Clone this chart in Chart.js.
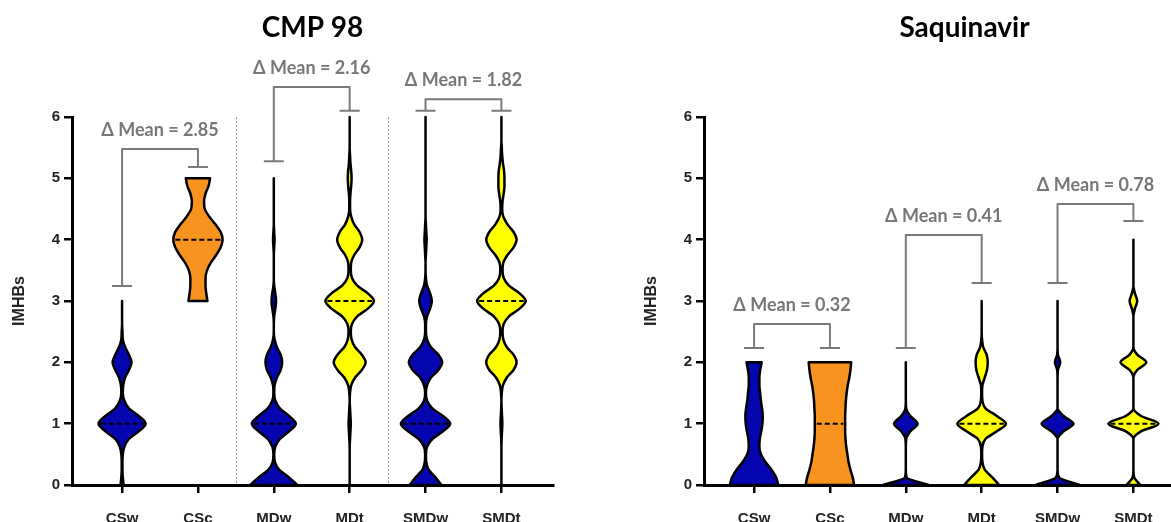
<!DOCTYPE html>
<html>
<head>
<meta charset="utf-8">
<script src="https://cdn.jsdelivr.net/npm/chart.js@4.4.1/dist/chart.umd.min.js"></script>
<style>
  html, body { margin: 0; padding: 0; background: #fff; overflow: hidden; }
  #wrap { position: relative; width: 1171px; height: 522px; overflow: hidden; background: #fff; }
  #cmpChart { position: absolute; left: 0; top: 0; }
  #saqChart { position: absolute; left: 632px; top: 0; }
</style>
</head>
<body>
<div id="wrap">
  <canvas id="cmpChart" width="626" height="522"></canvas>
  <canvas id="saqChart" width="664" height="522"></canvas>
</div>
<script>
const categories = ['CSw', 'CSc', 'MDw', 'MDt', 'SMDw', 'SMDt'];
const step = 0.125; // spacing of the width samples, in IMHBs

// CMP 98 - violin half widths (x units) sampled every 0.125 from each violin's min
const cmpMin = [0, 3, 0, 0, 0, 0];
const cmpMedian = [1, 4, 1, 3, 1, 3];
const cmpCSw = [0.02, 0.01, 0.005, 0.005, 0.01, 0.03, 0.09, 0.22, 0.31, 0.22, 0.09, 0.03, 0.01, 0.015, 0.04, 0.09, 0.125, 0.09, 0.04, 0.01, 0.005, 0, 0, 0, 0];
const cmpCSc = [0.125, 0.11, 0.1, 0.1, 0.12, 0.17, 0.24, 0.3, 0.325, 0.3, 0.23, 0.15, 0.09, 0.08, 0.1, 0.14, 0.16];
const cmpMDw = [0.31, 0.2, 0.07, 0.015, 0.005, 0.02, 0.08, 0.2, 0.29, 0.2, 0.08, 0.02, 0.005, 0.01, 0.04, 0.09, 0.11, 0.09, 0.04, 0.01, 0, 0, 0.005, 0.02, 0.03, 0.02, 0.005, 0, 0, 0, 0, 0.005, 0.01, 0.005, 0, 0, 0, 0, 0, 0, 0];
const cmpMDt = [0, 0, 0, 0, 0, 0, 0.005, 0.01, 0.015, 0.01, 0.005, 0, 0.005, 0.02, 0.07, 0.16, 0.21, 0.16, 0.07, 0.025, 0.015, 0.03, 0.1, 0.24, 0.32, 0.24, 0.1, 0.03, 0.015, 0.02, 0.06, 0.13, 0.165, 0.13, 0.06, 0.02, 0.005, 0.005, 0.01, 0.02, 0.025, 0.02, 0.01, 0.005, 0, 0, 0, 0, 0];
const cmpSMDw = [0.21, 0.13, 0.04, 0.01, 0.005, 0.02, 0.09, 0.23, 0.325, 0.23, 0.09, 0.02, 0.005, 0.02, 0.07, 0.17, 0.22, 0.17, 0.07, 0.02, 0.005, 0.005, 0.02, 0.06, 0.083, 0.06, 0.02, 0.005, 0, 0, 0.005, 0.01, 0.015, 0.01, 0.005, 0, 0, 0, 0, 0, 0, 0, 0, 0, 0, 0, 0, 0, 0];
const cmpSMDt = [0, 0, 0, 0, 0, 0, 0.003, 0.008, 0.012, 0.008, 0.003, 0, 0.005, 0.02, 0.07, 0.16, 0.2, 0.16, 0.07, 0.025, 0.015, 0.03, 0.1, 0.24, 0.32, 0.24, 0.1, 0.03, 0.015, 0.025, 0.08, 0.16, 0.2, 0.16, 0.08, 0.025, 0.01, 0.015, 0.03, 0.04, 0.04, 0.035, 0.02, 0.01, 0.005, 0, 0, 0, 0];
const cmpDelta = ['2.85', '2.16', '1.82'];
const cmpBracketTop = [5.48, 6.49, 6.29];
const cmpBracketLeft = [3.245, 5.28, 6.10];
const cmpBracketRight = [5.185, 6.10, 6.10];

// Saquinavir
const saqMin = [0, 0, 0, 0, 0, 0];
const saqMedian = [0, 1, 0, 1, 0, 1];
const saqCSw = [0.32, 0.29, 0.23, 0.15, 0.09, 0.07, 0.075, 0.095, 0.11, 0.115, 0.105, 0.09, 0.08, 0.07, 0.07, 0.08, 0.1];
const saqCSc = [0.32, 0.3, 0.27, 0.245, 0.23, 0.215, 0.205, 0.2, 0.2, 0.2, 0.205, 0.21, 0.22, 0.235, 0.255, 0.27, 0.28];
const saqMDw = [0.3, 0.01, 0, 0, 0, 0, 0.005, 0.06, 0.155, 0.06, 0.005, 0, 0, 0, 0, 0, 0];
const saqMDt = [0.23, 0.14, 0.04, 0.01, 0.005, 0.01, 0.05, 0.2, 0.32, 0.2, 0.05, 0.01, 0.005, 0.01, 0.04, 0.07, 0.08, 0.065, 0.02, 0.005, 0, 0, 0, 0, 0];
const saqSMDw = [0.29, 0.02, 0, 0, 0, 0, 0, 0.08, 0.21, 0.08, 0, 0, 0, 0, 0, 0.005, 0.035, 0.005, 0, 0, 0, 0, 0, 0, 0];
const saqSMDt = [0.09, 0.01, 0, 0, 0, 0, 0, 0.1, 0.33, 0.1, 0, 0, 0, 0, 0, 0.05, 0.17, 0.05, 0, 0, 0, 0, 0, 0.02, 0.05, 0.02, 0, 0, 0, 0, 0, 0, 0];
const saqDelta = ['0.32', '0.41', '0.78'];
const saqBracketTop = [2.625, 4.076, 4.58];
const saqBracketLeft = [2.234, 2.234, 3.294];
const saqBracketRight = [2.234, 3.294, 4.305];

const pairs = [[0, 1], [2, 3], [4, 5]];

const BLUE = '#0505b0';
const ORANGE = '#f7931e';
const YELLOW = '#ffff00';
const fills = [BLUE, ORANGE, BLUE, YELLOW, BLUE, YELLOW];

// monotone tangents so the outline never swings below zero width
function tangents(w, h) {
  const n = w.length, d = [], m = new Array(n).fill(0);
  for (let k = 0; k < n - 1; k++) d.push((w[k + 1] - w[k]) / h);
  m[0] = d[0] || 0;
  m[n - 1] = d[n - 2] || 0;
  for (let k = 1; k < n - 1; k++) m[k] = d[k - 1] * d[k] <= 0 ? 0 : (d[k - 1] + d[k]) / 2;
  for (let k = 0; k < n - 1; k++) {
    if (d[k] === 0) { m[k] = 0; m[k + 1] = 0; continue; }
    const a = m[k] / d[k], b = m[k + 1] / d[k], s = a * a + b * b;
    if (s > 9) {
      const t = 3 / Math.sqrt(s);
      m[k] = t * a * d[k];
      m[k + 1] = t * b * d[k];
    }
  }
  return m;
}

function drawViolin(ctx, x, y, c, v0, w, color) {
  const h = step, n = w.length, m = tangents(w, h);
  const P = (side, v, ww) => [x.getPixelForValue(c + side * ww), y.getPixelForValue(v)];
  ctx.beginPath();
  ctx.moveTo(...P(-1, v0, w[0]));
  ctx.lineTo(...P(1, v0, w[0]));
  for (let k = 0; k < n - 1; k++) {
    const va = v0 + k * h, vb = va + h;
    ctx.bezierCurveTo(...P(1, va + h / 3, w[k] + m[k] * h / 3),
      ...P(1, vb - h / 3, w[k + 1] - m[k + 1] * h / 3), ...P(1, vb, w[k + 1]));
  }
  const vTop = v0 + (n - 1) * h;
  ctx.lineTo(...P(-1, vTop, w[n - 1]));
  for (let k = n - 1; k > 0; k--) {
    const va = v0 + k * h, vb = va - h;
    ctx.bezierCurveTo(...P(-1, va - h / 3, w[k] - m[k] * h / 3),
      ...P(-1, vb + h / 3, w[k - 1] + m[k - 1] * h / 3), ...P(-1, vb, w[k - 1]));
  }
  ctx.closePath();
  ctx.fillStyle = color;
  ctx.fill();
  ctx.lineWidth = 2.5;
  ctx.lineJoin = 'round';
  ctx.strokeStyle = '#000';
  ctx.stroke();
}

const violinPlugin = {
  id: 'violins',
  beforeDatasetsDraw(chart, args, opts) {
    const { ctx, scales: { x, y } } = chart;
    ctx.save();
    ctx.strokeStyle = '#9a9a9a';
    ctx.lineWidth = 1;
    ctx.setLineDash([2, 2]);
    opts.separators.forEach(s => {
      const px = Math.round(x.getPixelForValue(s)) + 0.5;
      ctx.beginPath();
      ctx.moveTo(px, y.getPixelForValue(6));
      ctx.lineTo(px, y.getPixelForValue(0));
      ctx.stroke();
    });
    ctx.restore();
  },
  afterDatasetsDraw(chart, args, opts) {
    const { ctx, chartArea, scales: { x, y } } = chart;
    ctx.save();
    opts.widths.forEach((w, i) => {
      drawViolin(ctx, x, y, i, opts.mins[i], w, fills[i]);
    });
    // median lines
    ctx.setLineDash([5, 3]);
    ctx.lineWidth = 2;
    ctx.strokeStyle = '#000';
    opts.medians.forEach((md, i) => {
      const hw = opts.widths[i][Math.round((md - opts.mins[i]) / step)];
      const py = y.getPixelForValue(md);
      ctx.beginPath();
      ctx.moveTo(x.getPixelForValue(i - hw) + 2, py);
      ctx.lineTo(x.getPixelForValue(i + hw) - 2, py);
      ctx.stroke();
    });
    ctx.setLineDash([]);
    // delta mean brackets
    ctx.strokeStyle = '#7a7a7a';
    ctx.fillStyle = '#777777';
    ctx.lineWidth = 2;
    ctx.font = 'bold 18px Lato, "Open Sans", sans-serif';
    ctx.textAlign = 'center';
    ctx.textBaseline = 'middle';
    pairs.forEach((p, i) => {
      const xa = x.getPixelForValue(p[0]), xb = x.getPixelForValue(p[1]);
      const yt = y.getPixelForValue(opts.top[i]);
      const yl = y.getPixelForValue(opts.left[i]);
      const yr = y.getPixelForValue(opts.right[i]);
      ctx.beginPath();
      ctx.moveTo(xa, yl);
      ctx.lineTo(xa, yt);
      ctx.lineTo(xb, yt);
      ctx.lineTo(xb, yr);
      ctx.moveTo(xa - 10, yl);
      ctx.lineTo(xa + 10, yl);
      ctx.moveTo(xb - 10, yr);
      ctx.lineTo(xb + 10, yr);
      ctx.stroke();
      ctx.fillText('\u0394 Mean = ' + opts.delta[i], (xa + xb) / 2, yt - 19);
    });
    // panel title
    ctx.fillStyle = '#000';
    ctx.font = 'bold 28px Lato, "Open Sans", sans-serif';
    ctx.textBaseline = 'alphabetic';
    ctx.fillText(opts.title, (chartArea.left + chartArea.right) / 2 + opts.titleShift, 37);
    ctx.restore();
  }
};

const tickFont = { family: '"Liberation Sans", Arial, sans-serif', size: 15, weight: 'bold' };
const titleFont = { family: '"Liberation Sans", Arial, sans-serif', size: 16, weight: 'bold' };

function makePanel(id, padRight, violinOpts) {
  return new Chart(document.getElementById(id), {
    type: 'scatter',
    data: { datasets: [] },
    plugins: [violinPlugin],
    options: {
      responsive: false,
      animation: false,
      layout: { padding: { left: 0, right: padRight, top: 117, bottom: 0 } },
      plugins: {
        legend: { display: false },
        tooltip: { enabled: false },
        title: { display: false },
        violins: violinOpts
      },
      scales: {
        x: {
          type: 'linear',
          min: -0.66,
          max: 5.68,
          afterBuildTicks: s => { s.ticks = categories.map((_, i) => ({ value: i })); },
          afterFit: s => { s.height = 37; },
          ticks: {
            callback: v => categories[v],
            color: '#222',
            font: tickFont,
            padding: 17,
            maxRotation: 0,
            autoSkip: false
          },
          grid: { drawOnChartArea: false, drawTicks: true, tickLength: 8, color: '#000', lineWidth: 2.5 },
          border: { display: true, color: '#000', width: 3 }
        },
        y: {
          type: 'linear',
          min: 0,
          max: 6,
          afterFit: s => { s.width = 72; },
          ticks: { stepSize: 1, color: '#222', font: tickFont, padding: 4 },
          title: { display: true, text: 'IMHBs', color: '#222', font: titleFont, padding: { top: 10, bottom: 0 } },
          grid: { drawOnChartArea: false, drawTicks: true, tickLength: 8, color: '#000', lineWidth: 2.5 },
          border: { display: true, color: '#000', width: 3 }
        }
      }
    }
  });
}

makePanel('cmpChart', 73, {
  title: 'CMP 98',
  titleShift: 0,
  widths: [cmpCSw, cmpCSc, cmpMDw, cmpMDt, cmpSMDw, cmpSMDt],
  mins: cmpMin,
  medians: cmpMedian,
  delta: cmpDelta,
  top: cmpBracketTop,
  left: cmpBracketLeft,
  right: cmpBracketRight,
  separators: [1.5, 3.5]
});

makePanel('saqChart', 111, {
  title: 'Saquinavir',
  titleShift: 20,
  widths: [saqCSw, saqCSc, saqMDw, saqMDt, saqSMDw, saqSMDt],
  mins: saqMin,
  medians: saqMedian,
  delta: saqDelta,
  top: saqBracketTop,
  left: saqBracketLeft,
  right: saqBracketRight,
  separators: []
});
</script>
</body>
</html>
